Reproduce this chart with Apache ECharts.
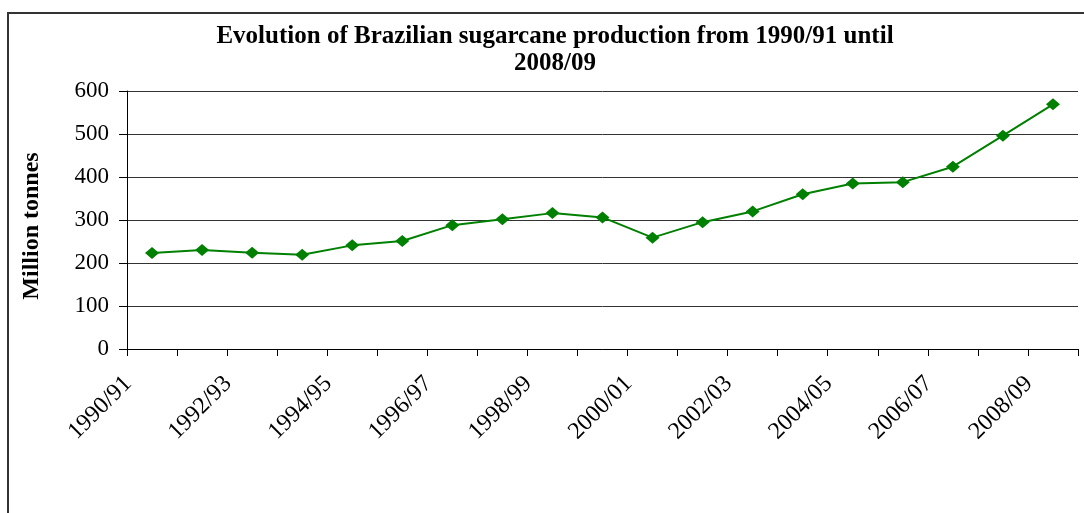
<!DOCTYPE html>
<html>
<head>
<meta charset="utf-8">
<script src="https://cdn.jsdelivr.net/npm/echarts@6/dist/echarts.min.js"></script>
<style>
html,body{margin:0;padding:0;background:#fff;}
#chart{width:1084px;height:513px;}
</style>
</head>
<body>
<div id="chart"></div>
<script>
const categories = ['1990/91','1991/92','1992/93','1993/94','1994/95','1995/96','1996/97','1997/98','1998/99','1999/00','2000/01','2001/02','2002/03','2003/04','2004/05','2005/06','2006/07','2007/08','2008/09'];
const production = [223, 230, 224, 219, 241, 251, 288, 302, 316, 306, 259, 295, 320, 360, 385, 388, 424, 496, 569];
const yTicks = [0, 100, 200, 300, 400, 500, 600];
const titleText = 'Evolution of Brazilian sugarcane production from 1990/91 until\n2008/09';
const yName = 'Million tonnes';

const chart = echarts.init(document.getElementById('chart'), null, {renderer: 'canvas'});
const serif = '"Liberation Serif"';
chart.setOption({
  animation: false,
  backgroundColor: '#fff',
  graphic: [{
    type: 'polyline',
    shape: {points: [[8, 600], [8, 13], [1090, 13]]},
    style: {stroke: '#333', lineWidth: 2, fill: null},
    silent: true
  }],
  title: {
    text: titleText,
    left: 550,
    top: 18,
    textAlign: 'center',
    textStyle: {fontFamily: serif, fontWeight: 'bold', fontSize: 25, color: '#000', lineHeight: 27}
  },
  grid: {left: 127, right: 6, top: 91, bottom: 164, containLabel: false, outerBoundsMode: 'none'},
  xAxis: {
    type: 'category',
    data: categories,
    boundaryGap: true,
    axisLine: {lineStyle: {color: '#000', width: 1}},
    axisTick: {show: true, length: 7, interval: 0, lineStyle: {color: '#000'}},
    axisLabel: {
      interval: 1,
      rotate: 45,
      margin: 7,
      padding: [0, 34, 0, 0],
      fontFamily: serif,
      fontSize: 24,
      color: '#000'
    },
    splitLine: {show: false}
  },
  yAxis: {
    type: 'value',
    min: 0,
    max: 600,
    interval: 100,
    name: yName,
    nameLocation: 'middle',
    nameGap: 83,
    nameRotate: 90,
    nameTextStyle: {fontFamily: serif, fontWeight: 'bold', fontSize: 24, color: '#000', padding: [0, 12, 0, 0]},
    axisLine: {show: true, lineStyle: {color: '#000', width: 1}},
    axisTick: {show: true, length: 8, lineStyle: {color: '#000'}},
    axisLabel: {
      margin: 18,
      fontFamily: serif,
      fontSize: 23,
      color: '#000',
      customValues: yTicks
    },
    splitLine: {show: true, lineStyle: {color: '#333', width: 1}}
  },
  series: [{
    type: 'line',
    data: production,
    symbol: 'diamond',
    symbolSize: [14, 12],
    lineStyle: {color: '#008000', width: 2},
    itemStyle: {color: '#008000'},
    showSymbol: true
  }]
});
</script>
</body>
</html>
